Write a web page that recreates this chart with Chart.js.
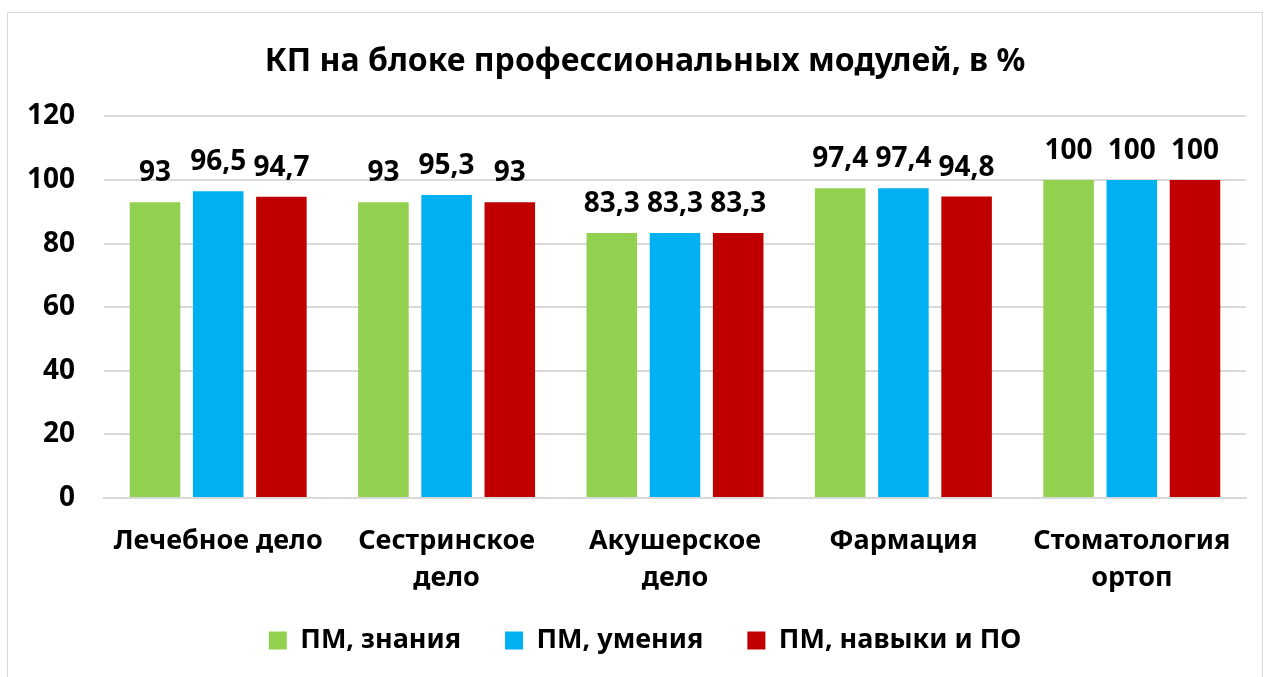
<!DOCTYPE html>
<html>
<head>
<meta charset="utf-8">
<script src="https://cdn.jsdelivr.net/npm/chart.js@4.4.0/dist/chart.umd.min.js"></script>
<style>
  html, body { margin: 0; padding: 0; background: #fff; }
  #wrap { position: relative; width: 1269px; height: 677px; overflow: hidden; }
  #frame { position: absolute; left: 7px; top: 12px; width: 1254px; height: 680px; border: 1px solid #d9d9d9; pointer-events: none; }
</style>
</head>
<body>
<div id="wrap">
  <canvas id="chart" width="1269" height="677"></canvas>
  <div id="frame"></div>
</div>
<script>
const categories = [
  "Лечебное дело",
  ["Сестринское", "дело"],
  ["Акушерское", "дело"],
  "Фармация",
  ["Стоматология", "ортоп"]
];
const znaniya = [93, 93, 83.3, 97.4, 100];
const umeniya = [96.5, 95.3, 83.3, 97.4, 100];
const navyki = [94.7, 93, 83.3, 94.8, 100];
const yTicks = [0, 20, 40, 60, 80, 100, 120];

const FONT = "'Noto Sans', sans-serif";

/* value labels above bars */
const valueLabels = {
  id: "valueLabels",
  afterLayout(chart) {
    // let the y labels use the left margin too (title/legend stay centred on the frame)
    chart.scales.y.left = 0;
  },
  afterDatasetsDraw(chart) {
    const ctx = chart.ctx;
    ctx.save();
    ctx.font = "bold 28px " + FONT;
    ctx.fillStyle = "#000";
    ctx.textAlign = "center";
    ctx.textBaseline = "alphabetic";
    chart.data.datasets.forEach((ds, i) => {
      chart.getDatasetMeta(i).data.forEach((bar, j) => {
        ctx.fillText(String(ds.data[j]).replace(".", ","), bar.x, bar.y - 21);
      });
    });
    ctx.restore();
  }
};

new Chart(document.getElementById("chart").getContext("2d"), {
  type: "bar",
  data: {
    labels: categories,
    datasets: [
      { label: "ПМ, знания", data: znaniya, backgroundColor: "#92D050" },
      { label: "ПМ, умения", data: umeniya, backgroundColor: "#00B0F0" },
      { label: "ПМ, навыки и ПО", data: navyki, backgroundColor: "#C00000" }
    ]
  },
  options: {
    responsive: false,
    animation: false,
    datasets: { bar: { categoryPercentage: 0.83, barPercentage: 0.8 } },
    layout: { padding: { left: 44, right: 23, top: 12, bottom: 13 } },
    plugins: {
      title: {
        display: true,
        text: "КП на блоке профессиональных модулей, в %",
        color: "#000",
        font: { family: FONT, size: 32, weight: "bold" },
        padding: { top: 31, bottom: 35 }
      },
      legend: {
        position: "bottom",
        labels: {
          color: "#000",
          font: { family: FONT, size: 27, weight: "bold" },
          boxWidth: 18,
          boxHeight: 18,
          padding: 30,
          // a bit more room between items
          generateLabels: chart => {
            const items = Chart.defaults.plugins.legend.labels.generateLabels(chart);
            items.forEach((it, i) => { if (i < items.length - 1) it.text += "  "; });
            return items;
          }
        }
      },
      tooltip: { enabled: false }
    },
    scales: {
      x: {
        grid: { display: false },
        border: { display: true, color: "#d9d9d9", width: 2 },
        afterFit: axis => { axis.height = 99; },
        ticks: {
          color: "#000",
          maxRotation: 0,
          autoSkip: false,
          padding: 16,
          font: { family: FONT, size: 27, weight: "bold", lineHeight: 1.4 }
        }
      },
      y: {
        min: 0,
        max: 120,
        afterBuildTicks: axis => { axis.ticks = yTicks.map(v => ({ value: v })); },
        afterFit: axis => { axis.width = 60; },
        grid: { color: "#d9d9d9", lineWidth: 2, drawTicks: false },
        border: { display: false },
        ticks: {
          color: "#000",
          padding: 29,
          font: { family: FONT, size: 28, weight: "bold" }
        }
      }
    }
  },
  plugins: [valueLabels]
});
</script>
</body>
</html>
